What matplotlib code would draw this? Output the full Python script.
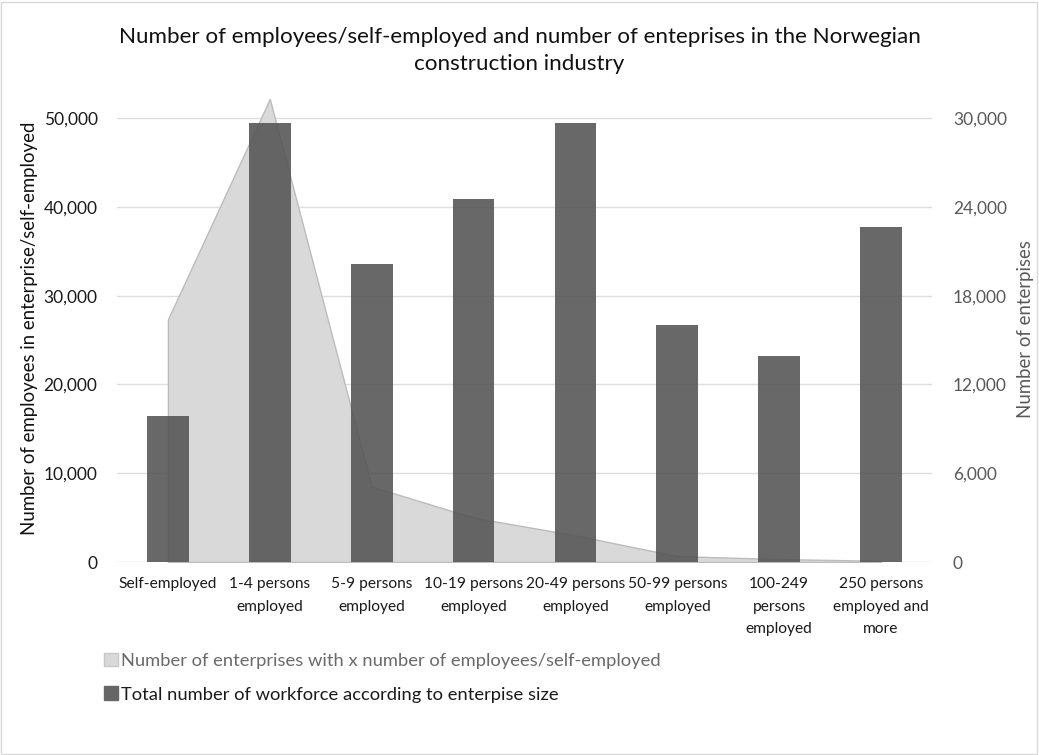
import matplotlib
matplotlib.use("Agg")
import matplotlib.pyplot as plt
from matplotlib.ticker import FuncFormatter, FixedLocator
from matplotlib.patches import Patch
import numpy as np

plt.rcParams['font.family'] = ['Lato', 'DejaVu Sans']

categories = ["Self-employed", "1-4 persons\nemployed", "5-9 persons\nemployed",
              "10-19 persons\nemployed", "20-49 persons\nemployed", "50-99 persons\nemployed",
              "100-249\npersons\nemployed", "250 persons\nemployed and\nmore"]
workforce = [16400, 49400, 33600, 40900, 49500, 26700, 23200, 37700]
enterprises = [16400, 31300, 5100, 3000, 1800, 400, 200, 80]
left_ticks = [0, 10000, 20000, 30000, 40000, 50000]
right_ticks = [0, 6000, 12000, 18000, 24000, 30000]

fig = plt.figure(figsize=(10.39, 7.55), dpi=100)
ax = fig.add_axes([0.1126, 0.2556, 0.7844, 0.6184])
ax2 = ax.twinx()

x = np.arange(len(categories))

# area on right axis (behind)
ax2.fill_between(x, enterprises, 0, color='#d9d9d9', edgecolor='#bcbcbc', linewidth=1.0, zorder=1)
ax2.set_ylim(0, 31554)
ax2.yaxis.set_major_locator(FixedLocator(right_ticks))
ax2.yaxis.set_major_formatter(FuncFormatter(lambda v, p: f"{int(v):,}"))

# bars on left axis (front)
ax.set_zorder(ax2.get_zorder() + 1)
ax.patch.set_visible(False)
ax.bar(x, workforce, width=0.41, color='#575757', alpha=0.9, zorder=3)
ax.set_ylim(0, 52590)
ax.set_xlim(-0.5, len(categories) - 0.5)
ax.yaxis.set_major_locator(FixedLocator(left_ticks))
ax.yaxis.set_major_formatter(FuncFormatter(lambda v, p: f"{int(v):,}"))
ax.set_xticks(x)
ax.set_xticklabels(categories, fontsize=11.2, color='#1a1a1a', linespacing=1.75)

# grid lines drawn on the back axis so they sit under the area
for t in right_ticks[1:]:
    ax2.axhline(t, color='#dedede', linewidth=1.0, zorder=0)
ax2.axhline(0, color='#d0d0d0', linewidth=1.0, zorder=4)

for a in (ax, ax2):
    for s in a.spines.values():
        s.set_visible(False)
    a.tick_params(length=0)

ax.tick_params(axis='y', labelsize=12.5, colors='#1a1a1a', pad=14)
ax.tick_params(axis='x', pad=11)
ax2.tick_params(axis='y', labelsize=12.5, colors='#595959', pad=15)

ax.set_ylabel("Number of employees in enterprise/self-employed", fontsize=13.4, color='#111111', labelpad=4)
ax2.set_ylabel("Number of enterpises", fontsize=13.4, color='#595959', labelpad=7)

fig.suptitle("Number of employees/self-employed and number of enteprises in the Norwegian\nconstruction industry",
             fontsize=16.1, color='#111111', y=0.964, linespacing=1.45)

handles = [Patch(facecolor='#d9d9d9', edgecolor='#c8c8c8'), Patch(facecolor='#666666', edgecolor='#666666')]
labels = ["Number of enterprises with x number of employees/self-employed",
          "Total number of workforce according to enterpise size"]
leg = fig.legend(handles, labels, loc='upper left', bbox_to_anchor=(0.084, 0.157), frameon=False,
                 fontsize=13.2, handlelength=0.75, handleheight=0.75, handletextpad=0.2, labelspacing=0.95)
leg.get_texts()[0].set_color('#6a6a6a')
leg.get_texts()[1].set_color('#1a1a1a')

# light outer frame
fig.patches.append(plt.Rectangle((0.001, 0.001), 0.997, 0.997, transform=fig.transFigure,
                                 fill=False, edgecolor='#d9d9d9', linewidth=1))

fig.savefig("out.png", dpi=100)
